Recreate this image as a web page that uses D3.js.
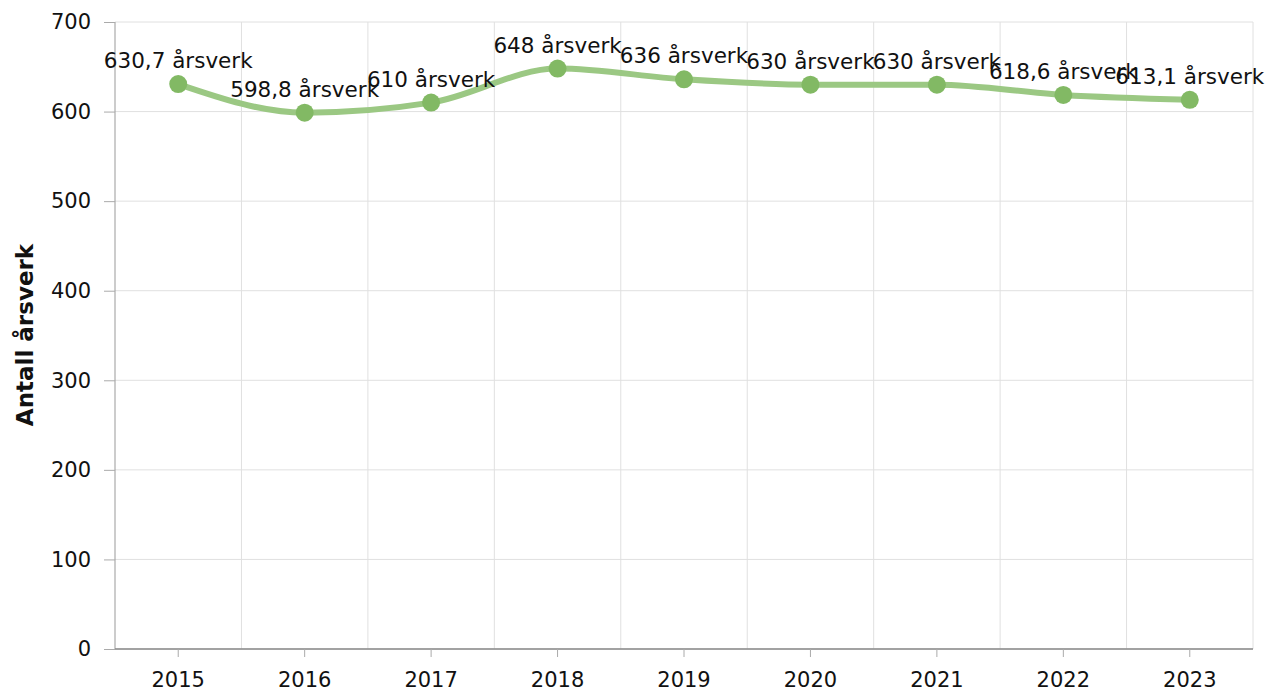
<!DOCTYPE html>
<html><head><meta charset="utf-8">
<script src="https://cdn.jsdelivr.net/npm/d3@7"></script>
<style>body{margin:0;background:#fff;}svg{display:block;font-family:"DejaVu Sans",Verdana,sans-serif;}</style>
</head><body>
<svg id="c" width="1269" height="694"></svg>
<script>
const years = ["2015","2016","2017","2018","2019","2020","2021","2022","2023"];
const values = [630.7, 598.8, 610, 648, 636, 630, 630, 618.6, 613.1];
const labels = ["630,7 årsverk","598,8 årsverk","610 årsverk","648 årsverk","636 årsverk","630 årsverk","630 årsverk","618,6 årsverk","613,1 årsverk"];
const yTicks = [0,100,200,300,400,500,600,700];
const yTitle = "Antall årsverk";

const svg = d3.select("#c");
const L = 115, R = 1253, T = 22, B = 649;
const x = d3.scaleBand().domain(years).range([L, R]);
const y = d3.scaleLinear().domain([0, 700]).range([B, T]);
const FF = '"DejaVu Sans",Verdana,sans-serif';

// horizontal grid
svg.append("g").selectAll("line").data(yTicks).join("line")
  .attr("x1", L).attr("x2", R).attr("y1", d => y(d)).attr("y2", d => y(d))
  .attr("stroke", "#e0e0e0").attr("stroke-width", 1);
// vertical grid at band boundaries
const bounds = years.slice(1).map(d => x(d)).concat([R]);
svg.append("g").selectAll("line").data(bounds).join("line")
  .attr("x1", d => d).attr("x2", d => d).attr("y1", T).attr("y2", B)
  .attr("stroke", "#e0e0e0").attr("stroke-width", 1);

// y axis
const ya = svg.append("g").attr("transform", `translate(${L},0)`)
  .call(d3.axisLeft(y).tickValues(yTicks).tickSize(11).tickPadding(13));
ya.select(".domain").attr("stroke", "#999").attr("d", `M0,${T}V${B}`);
ya.selectAll(".tick line").attr("stroke", "#aaa");
ya.selectAll("text").attr("font-size", 21).attr("fill", "#111").attr("font-family", FF);

// x axis
const xa = svg.append("g").attr("transform", `translate(0,${B})`)
  .call(d3.axisBottom(x).tickSize(8).tickPadding(15));
xa.select(".domain").attr("stroke", "#888").attr("stroke-width", 1.5).attr("d", `M${L},0H${R}`);
xa.selectAll(".tick line").attr("stroke", "#aaa");
xa.selectAll("text").attr("font-size", 21).attr("fill", "#111").attr("font-family", FF);

// y title
svg.append("text").attr("transform", `translate(33,335) rotate(-90)`)
  .attr("text-anchor", "middle").attr("font-size", 23).attr("font-weight", "bold")
  .attr("fill", "#111").text(yTitle);

const cx = d => x(d) + x.bandwidth() / 2;
const pts = years.map((d, i) => [cx(d), y(values[i])]);
svg.append("path").attr("d", d3.line().curve(d3.curveMonotoneX)(pts))
  .attr("fill", "none").attr("stroke", "#9bc883").attr("stroke-width", 6).attr("stroke-linecap", "round");

svg.append("g").selectAll("circle").data(pts).join("circle")
  .attr("cx", d => d[0]).attr("cy", d => d[1]).attr("r", 9).attr("fill", "#82b964");

svg.append("g").selectAll("text").data(years).join("text")
  .attr("x", d => cx(d)).attr("y", (d, i) => y(values[i]) - 16)
  .attr("text-anchor", "middle").attr("font-size", 21.5).attr("fill", "#111")
  .text((d, i) => labels[i]);
</script>
</body></html>
